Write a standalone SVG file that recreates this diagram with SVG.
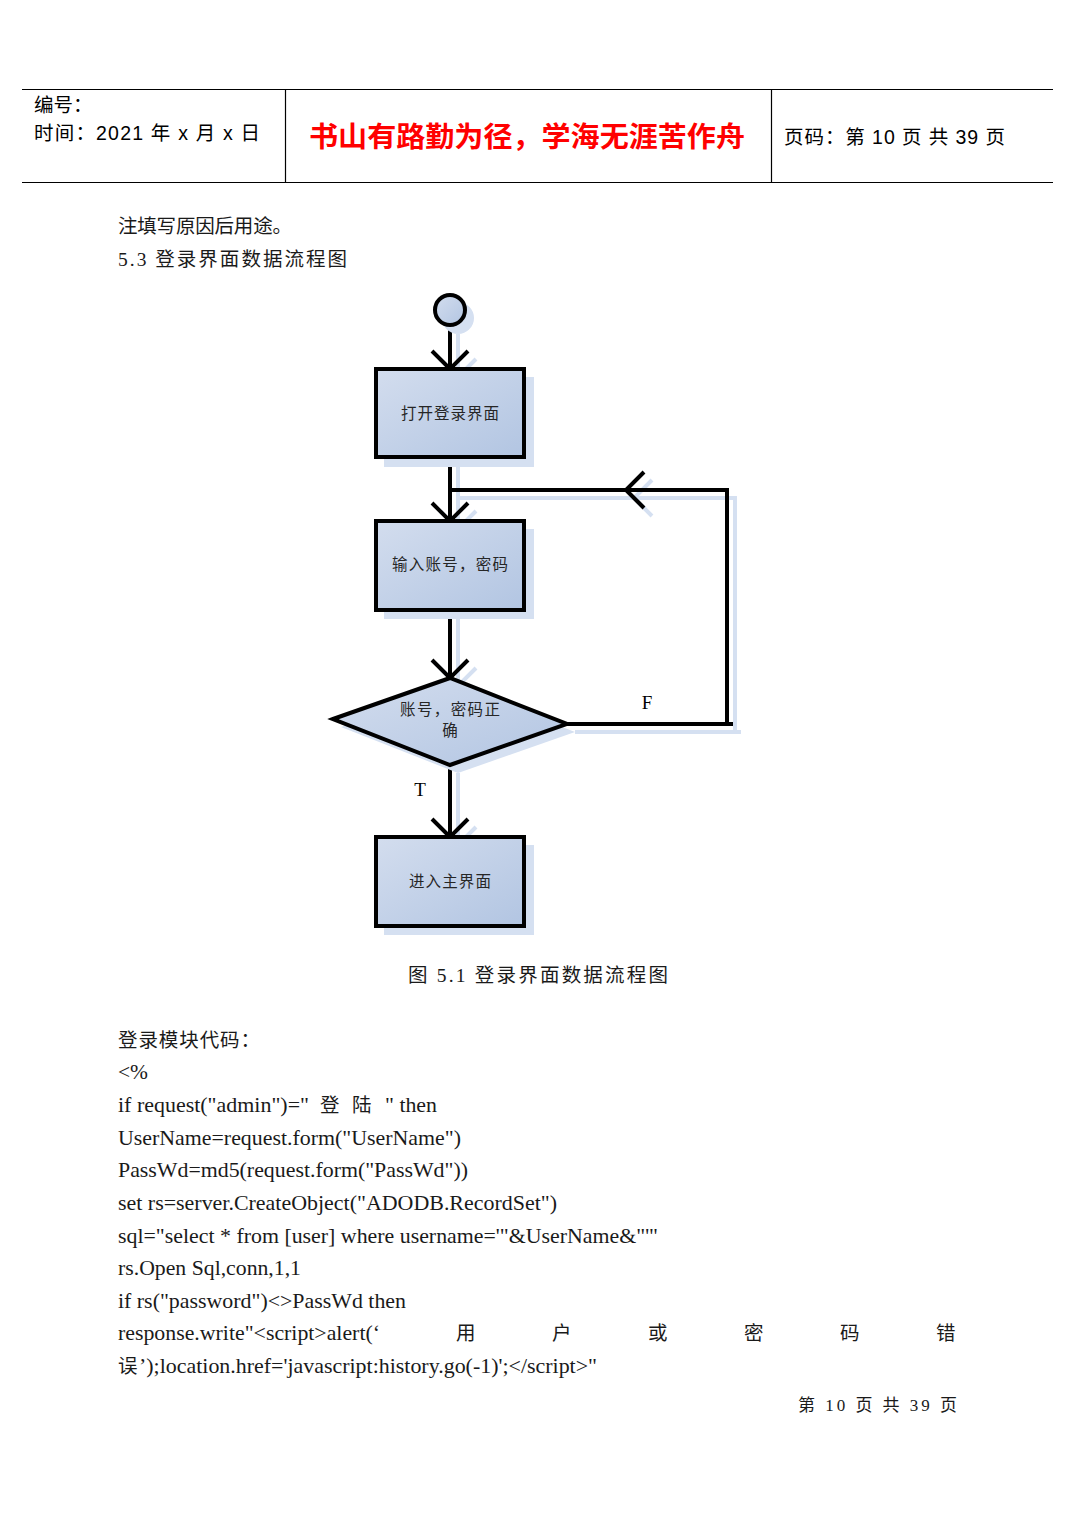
<svg xmlns="http://www.w3.org/2000/svg" width="1075" height="1518" viewBox="0 0 1075 1518">
<style>
.hdr{font-family:"Liberation Sans","Noto Sans CJK SC",sans-serif;font-size:19.5px;fill:#000}
.title{font-family:"Noto Sans CJK SC",sans-serif;font-size:28px;font-weight:bold;fill:#ff0000}
.body{font-family:"Liberation Serif","Noto Sans CJK SC",serif;font-size:19.5px;fill:#1a1a1a}
.code{font-family:"Liberation Serif","Noto Sans CJK SC",serif;font-size:21px;fill:#1a1a1a}
.nt{font-family:"Liberation Serif","Noto Sans CJK SC",serif;font-size:15.5px;fill:#262626;text-anchor:middle}
.lbl{font-family:"Liberation Serif",serif;font-size:19px;fill:#000;text-anchor:middle}
.rule{stroke:#000;stroke-width:1.2;fill:none}
.shape{stroke:#000;stroke-width:4;fill:url(#g)}
.shadow{fill:#d5e0f1;stroke:none}
.cl{stroke:#000;stroke-width:4;fill:none}
.cs{stroke:#d5e0f1;stroke-width:4;fill:none}
</style>
<defs>
<linearGradient id="g" x1="0" y1="0" x2="1" y2="1">
<stop offset="0" stop-color="#d3ddee"/>
<stop offset="1" stop-color="#b2c5e2"/>
</linearGradient>
<marker id="a" markerUnits="userSpaceOnUse" viewBox="-22 -22 44 44" markerWidth="44" markerHeight="44" refX="0" refY="0" orient="auto" overflow="visible">
<path d="M-18,-18 L0,0 L-18,18" fill="none" stroke="#000" stroke-width="4"/>
</marker>
<marker id="as" markerUnits="userSpaceOnUse" viewBox="-22 -22 44 44" markerWidth="44" markerHeight="44" refX="0" refY="0" orient="auto" overflow="visible">
<path d="M-18,-18 L0,0 L-18,18" fill="none" stroke="#d5e0f1" stroke-width="4"/>
</marker>
</defs>
<rect x="0" y="0" width="1075" height="1518" fill="#fff"/>

<g id="header">
<line class="rule" x1="22" y1="89.5" x2="1053" y2="89.5"/>
<line class="rule" x1="22" y1="182.5" x2="1053" y2="182.5"/>
<line class="rule" x1="285.5" y1="89.5" x2="285.5" y2="182.5"/>
<line class="rule" x1="771.5" y1="89.5" x2="771.5" y2="182.5"/>
<text class="hdr" x="34" y="112">编号：</text>
<text class="hdr" x="34" y="140" textLength="226" lengthAdjust="spacing">时间：2021 年 x 月 x 日</text>
<text class="title" x="309" y="147" textLength="436" lengthAdjust="spacingAndGlyphs">书山有路勤为径，学海无涯苦作舟</text>
<text class="hdr" x="784" y="144" textLength="221" lengthAdjust="spacing">页码：第 10 页  共 39 页</text>
</g>

<g id="intro">
<text class="body" x="118" y="233" textLength="174" lengthAdjust="spacing">注填写原因后用途。</text>
<text class="body" x="118" y="266" textLength="229" lengthAdjust="spacing">5.3 登录界面数据流程图</text>
</g>

<g id="connectors">
<path class="cs" d="M458,334 L458,377" marker-end="url(#as)"/>
<path class="cs" d="M458,465 L458,529" marker-end="url(#as)"/>
<path class="cs" d="M458,618 L458,686" marker-end="url(#as)"/>
<path class="cs" d="M458,773 L458,845" marker-end="url(#as)"/>
<path class="cs" d="M575,732 L741,732"/>
<path class="cs" d="M735,732 L735,498 L634,498"/>
<path class="cs" d="M735,498 L634,498" marker-end="url(#as)"/>
<path class="cs" d="M634,498 L458,498"/>
<path class="cl" d="M450,326 L450,369" marker-end="url(#a)"/>
<path class="cl" d="M450,457 L450,521" marker-end="url(#a)"/>
<path class="cl" d="M450,610 L450,678" marker-end="url(#a)"/>
<path class="cl" d="M450,765 L450,837" marker-end="url(#a)"/>
<path class="cl" d="M567,724 L733,724"/>
<path class="cl" d="M727,724 L727,490"/>
<path class="cl" d="M729,490 L626,490" marker-end="url(#a)"/>
<path class="cl" d="M626,490 L450,490"/>
<text class="lbl" x="647" y="709">F</text>
<text class="lbl" x="420" y="796">T</text>
</g>

<g id="start">
<circle class="shadow" cx="458" cy="318" r="16"/>
<circle class="shape" cx="450" cy="310" r="15"/>
</g>

<g id="open-login">
<rect class="shadow" x="384" y="377" width="150" height="90"/>
<rect class="shape" x="376" y="369" width="148" height="88"/>
<text class="nt" x="450" y="419" textLength="98" lengthAdjust="spacing">打开登录界面</text>
</g>

<g id="input">
<rect class="shadow" x="384" y="529" width="150" height="90"/>
<rect class="shape" x="376" y="521" width="148" height="89"/>
<text class="nt" x="450" y="570" textLength="116" lengthAdjust="spacing">输入账号，密码</text>
</g>

<g id="check">
<polygon class="shadow" points="341,727 458,686 575,732 458,773"/>
<polygon class="shape" points="333,719 450,678 567,724 450,765"/>
<text class="nt" x="450" y="715" textLength="100" lengthAdjust="spacing">账号，密码正</text>
<text class="nt" x="450" y="736">确</text>
</g>

<g id="main">
<rect class="shadow" x="384" y="845" width="150" height="90"/>
<rect class="shape" x="376" y="837" width="148" height="89"/>
<text class="nt" x="450" y="887" textLength="82" lengthAdjust="spacing">进入主界面</text>
</g>

<g id="caption">
<text class="body" x="408" y="982" textLength="260" lengthAdjust="spacing">图 5.1  登录界面数据流程图</text>
</g>

<g id="code">
<text class="code" x="118" y="1047" style="font-size:19.5px" textLength="142" lengthAdjust="spacing">登录模块代码：</text>
<text class="code" x="118" y="1079" textLength="30" lengthAdjust="spacingAndGlyphs">&lt;%</text>
<text class="code" x="118" y="1112" textLength="191" lengthAdjust="spacingAndGlyphs">if request("admin")="</text>
<text class="code" x="320" y="1112" style="font-size:19.5px">登</text>
<text class="code" x="352" y="1112" style="font-size:19.5px">陆</text>
<text class="code" x="385" y="1112" textLength="52" lengthAdjust="spacingAndGlyphs">" then</text>
<text class="code" x="118" y="1145" textLength="343" lengthAdjust="spacingAndGlyphs">UserName=request.form("UserName")</text>
<text class="code" x="118" y="1177" textLength="350" lengthAdjust="spacingAndGlyphs">PassWd=md5(request.form("PassWd"))</text>
<text class="code" x="118" y="1210" textLength="439" lengthAdjust="spacingAndGlyphs">set rs=server.CreateObject("ADODB.RecordSet")</text>
<text class="code" x="118" y="1243" textLength="540" lengthAdjust="spacingAndGlyphs">sql="select * from [user] where username='"&amp;UserName&amp;"'"</text>
<text class="code" x="118" y="1275" textLength="183" lengthAdjust="spacingAndGlyphs">rs.Open Sql,conn,1,1</text>
<text class="code" x="118" y="1308" textLength="288" lengthAdjust="spacingAndGlyphs">if rs("password")&lt;&gt;PassWd then</text>
<text class="code" x="118" y="1340" textLength="262" lengthAdjust="spacingAndGlyphs">response.write"&lt;script&gt;alert(‘</text>
<text class="code" x="456" y="1340" style="font-size:19.5px">用</text>
<text class="code" x="552" y="1340" style="font-size:19.5px">户</text>
<text class="code" x="648" y="1340" style="font-size:19.5px">或</text>
<text class="code" x="744" y="1340" style="font-size:19.5px">密</text>
<text class="code" x="840" y="1340" style="font-size:19.5px">码</text>
<text class="code" x="936" y="1340" style="font-size:19.5px">错</text>
<text class="code" x="118" y="1373" style="font-size:19.5px">误</text>
<text class="code" x="139" y="1373" textLength="458" lengthAdjust="spacingAndGlyphs">’);location.href='javascript:history.go(-1)';&lt;/script&gt;"</text>
</g>

<g id="footer">
<text class="body" x="798" y="1411" style="font-size:17px" textLength="159" lengthAdjust="spacing">第 10 页 共 39 页</text>
</g>
</svg>
